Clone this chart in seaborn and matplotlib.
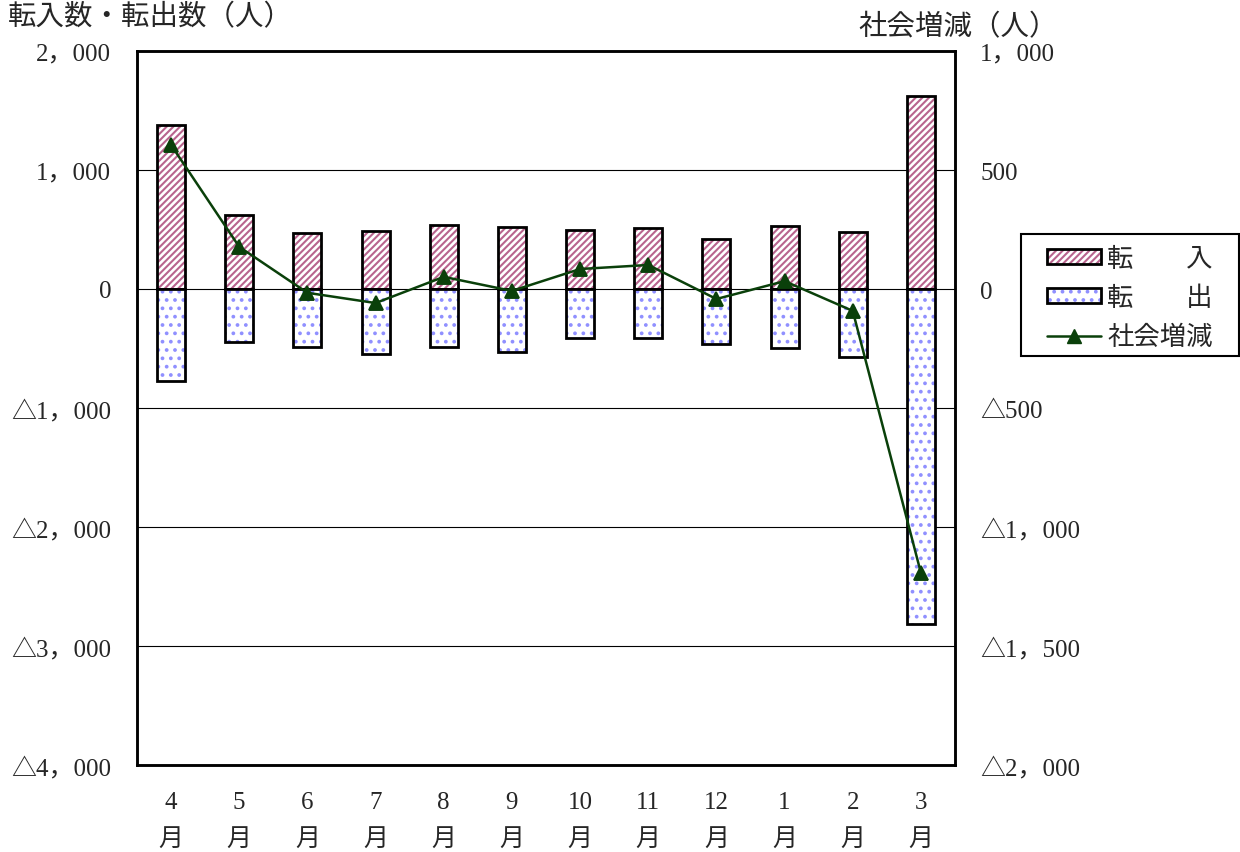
import matplotlib
matplotlib.use("Agg")
import matplotlib.pyplot as plt
import seaborn as sns
import pandas as pd
from matplotlib.patches import Patch, Rectangle
from matplotlib.lines import Line2D

months = ["4\n月", "5\n月", "6\n月", "7\n月", "8\n月", "9\n月",
          "10\n月", "11\n月", "12\n月", "1\n月", "2\n月", "3\n月"]
tennyu = [1378, 622, 471, 487, 538, 521, 496, 513, 420, 529, 479, 1622]
tenshutsu = [-773, -445, -487, -546, -487, -529, -412, -412, -462, -496, -571, -2815]
shakai = [605, 177, -16, -59, 51, -8, 84, 101, -42, 33, -92, -1193]

left_ticks = [2000, 1000, 0, -1000, -2000, -3000, -4000]
left_labels = ["2，000", "1，000", "0", "△1，000", "△2，000", "△3，000", "△4，000"]
right_ticks = [1000, 500, 0, -500, -1000, -1500, -2000]
right_labels = ["1，000", "500", "0", "△500", "△1，000", "△1，500", "△2，000"]

sns.set_theme(style="white")
plt.rcParams['font.family'] = ['Liberation Serif', 'Noto Sans CJK JP']
plt.rcParams['hatch.linewidth'] = 1.5

FS = 18
fig = plt.figure(figsize=(12.4, 8.53), dpi=100)
ax = fig.add_axes([137/1240, 1-766/853, (955-137)/1240, (766-52)/853])

df_in = pd.DataFrame({"month": months, "value": tennyu})
df_out = pd.DataFrame({"month": months, "value": tenshutsu})

sns.barplot(data=df_in, x="month", y="value", ax=ax, width=0.41,
            color="white", edgecolor="black", linewidth=2, saturation=1)
n_in = len(ax.patches)
sns.barplot(data=df_out, x="month", y="value", ax=ax, width=0.41,
            color="white", edgecolor="black", linewidth=2, saturation=1)

pink = "#b8648e"
blue = "#9090ff"
for i, p in enumerate(ax.patches):
    p.set_edgecolor("black")
    p.set_zorder(3)
    if i < n_in:
        p.set_hatch("/////")
        p._hatch_color = matplotlib.colors.to_rgba(pink)
    else:
        p.set_hatch("..")
        p._hatch_color = matplotlib.colors.to_rgba(blue)

ax.set_ylim(-4000, 2000)
ax.set_xlim(-0.5, 11.5)
ax.set_yticks(left_ticks)
ax.set_yticklabels(left_labels)
for y in [1000, 0, -1000, -2000, -3000]:
    ax.axhline(y, color="black", linewidth=0.8, zorder=1)
ax.set_xlabel("")
ax.set_ylabel("")
ax.tick_params(axis="y", length=0, pad=18.5, labelsize=FS)
ax.tick_params(axis="x", length=0, pad=19, labelsize=FS)
for lbl in ax.get_xticklabels():
    lbl.set_linespacing(1.87)
for s in ax.spines.values():
    s.set_visible(True)
    s.set_color("black")
    s.set_linewidth(1.8)

ax2 = ax.twinx()
df_net = pd.DataFrame({"month": months, "value": shakai})
sns.pointplot(data=df_net, x="month", y="value", ax=ax2, color="#0a400a",
              markers="^", linestyles="-", markersize=10, linewidth=1.8)
ax2.set_ylim(-2000, 1000)
ax2.set_xlim(-0.5, 11.5)
ax2.set_yticks(right_ticks)
ax2.set_yticklabels(right_labels)
ax2.set_ylabel("")
ax2.set_xlabel("")
ax2.tick_params(axis="y", length=0, pad=18, labelsize=FS)
for s in ax2.spines.values():
    s.set_visible(True)
    s.set_color("black")
    s.set_linewidth(1.8)

fig.text(8/1240, 1-18/853, "転入数・転出数（人）", fontsize=20.5, va="center", ha="left")
fig.text(858/1240, 1-28/853, "社会増減（人）", fontsize=20.5, va="center", ha="left")

h_in = Patch(facecolor="white", edgecolor="black", hatch="/////", linewidth=2)
h_out = Patch(facecolor="white", edgecolor="black", hatch="..", linewidth=2)
h_net = Line2D([0], [0], color="#0a400a", marker="^", markersize=10, linewidth=1.8)
leg = fig.legend([h_in, h_out, h_net], ["転　　入", "転　　出", "社会増減"],
                 loc="center left", bbox_to_anchor=(1047/1240, 1-299/853),
                 fontsize=19, frameon=False,
                 handlelength=2.05, handleheight=0.5, handletextpad=0.23,
                 labelspacing=0.56, borderpad=0, borderaxespad=0)
for p, c in zip(leg.get_patches(), [pink, blue]):
    p._hatch_color = matplotlib.colors.to_rgba(c)
fig.patches.append(Rectangle((1021/1240, 1-357/853), (1239-1021)/1240, (357-235)/853,
                             transform=fig.transFigure, fill=False,
                             edgecolor="black", linewidth=1.5))

fig.savefig("out.png", dpi=100)
